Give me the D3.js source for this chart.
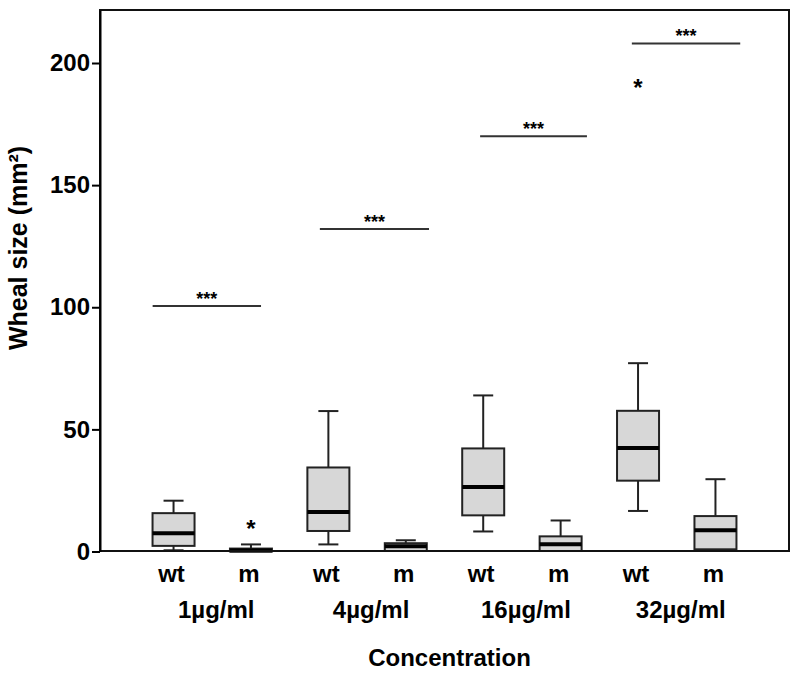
<!DOCTYPE html>
<html>
<head>
<meta charset="utf-8">
<script src="https://cdn.jsdelivr.net/npm/d3@7"></script>
<style>
    body { margin: 0; background: #fff; }
    text { font-family: "Liberation Sans", Arial, sans-serif; font-weight: bold; fill: #000; }
</style>
</head>
<body>
<div id="boxPlot"></div>
<script>
'use strict';

// groups along the x axis
const concentrations = ["1µg/ml", "4µg/ml", "16µg/ml", "32µg/ml"];
const strains = ["wt", "m"];

// box stats, one entry per box (wt, m, wt, m ...)
const whiskerLow  = [0.5, 0,   2.9, 0,   8.2, 0,    16.6, 0];
const q1          = [2.3, 0,   8.4, 0.2, 14.8, 0.2, 29.0, 0.9];
const median      = [7.5, 0.4, 16.2, 2.1, 26.4, 3.0, 42.4, 8.7];
const q3          = [15.7, 1.2, 34.4, 3.4, 42.2, 6.2, 57.6, 14.5];
const whiskerHigh = [20.8, 2.9, 57.5, 4.6, 63.9, 12.7, 77.1, 29.6];

// outliers: box index and value
const outlierBox = [1, 6];
const outlierValue = [11.6, 192.3];

// significance bars (x in box-index units)
const sigStart = [-0.27, 1.89, 3.96, 5.92];
const sigEnd = [1.13, 3.30, 5.34, 7.32];
const sigY = [100.5, 132, 170, 208];
const sigLabel = ["***", "***", "***", "***"];

const yTicks = [0, 50, 100, 150, 200];

let margin = { top: 10, right: 11, bottom: 127, left: 100 },
    width = 800 - margin.left - margin.right,
    height = 678 - margin.top - margin.bottom;

let x = d3.scaleLinear()
    .domain([-0.95, 7.95])
    .range([0, width]);

let y = d3.scaleLinear()
    .domain([0, 221.7])
    .range([height + 0.5, 0]);

let boxW = 42;

var svg = d3.select("#boxPlot").append("svg")
    .attr("width", width + margin.left + margin.right)
    .attr("height", height + margin.top + margin.bottom)
    .append("g")
    .attr("transform", "translate(" + margin.left + "," + margin.top + ")");

let boxes = median.map((m, i) => ({
    i: i,
    lo: whiskerLow[i], q1: q1[i], med: m, q3: q3[i], hi: whiskerHigh[i]
}));

// whiskers
let g = svg.selectAll(".box")
    .data(boxes)
    .enter().append("g")
    .attr("class", "box");

g.append("line")
    .attr("x1", d => x(d.i)).attr("x2", d => x(d.i))
    .attr("y1", d => y(d.hi)).attr("y2", d => y(d.lo))
    .attr("stroke", "#222").attr("stroke-width", 2);

g.append("line")
    .attr("x1", d => x(d.i) - 10).attr("x2", d => x(d.i) + 10)
    .attr("y1", d => y(d.hi)).attr("y2", d => y(d.hi))
    .attr("stroke", "#222").attr("stroke-width", 2);

g.filter(d => d.lo > 0).append("line")
    .attr("x1", d => x(d.i) - 10).attr("x2", d => x(d.i) + 10)
    .attr("y1", d => y(d.lo)).attr("y2", d => y(d.lo))
    .attr("stroke", "#222").attr("stroke-width", 2);

g.append("rect")
    .attr("x", d => x(d.i) - boxW / 2)
    .attr("width", boxW)
    .attr("y", d => y(d.q3))
    .attr("height", d => y(d.q1) - y(d.q3))
    .attr("fill", "#d7d7d7")
    .attr("stroke", "#222")
    .attr("stroke-width", 2);

g.append("line")
    .attr("x1", d => x(d.i) - boxW / 2).attr("x2", d => x(d.i) + boxW / 2)
    .attr("y1", d => y(d.med)).attr("y2", d => y(d.med))
    .attr("stroke", "#000").attr("stroke-width", 4);

// outliers (star centred on the value)
let starSize = 24;
svg.selectAll(".outlier")
    .data(outlierBox)
    .enter().append("text")
    .attr("class", "outlier")
    .attr("x", (d, i) => x(d))
    .attr("y", (d, i) => y(outlierValue[i]) + starSize * 0.58)
    .attr("text-anchor", "middle")
    .style("font-size", starSize + "px")
    .text("*");

// significance bars
svg.selectAll(".sig")
    .data(sigY)
    .enter().append("line")
    .attr("class", "sig")
    .attr("x1", (d, i) => x(sigStart[i]))
    .attr("x2", (d, i) => x(sigEnd[i]))
    .attr("y1", d => y(d)).attr("y2", d => y(d))
    .attr("stroke", "#333").attr("stroke-width", 2);

svg.selectAll(".sigText")
    .data(sigY)
    .enter().append("text")
    .attr("class", "sigText")
    .attr("x", (d, i) => x((sigStart[i] + sigEnd[i]) / 2))
    .attr("y", d => y(d) - 1)
    .attr("text-anchor", "middle")
    .style("font-size", "18px")
    .text((d, i) => sigLabel[i]);

// frame
svg.append("rect")
    .attr("x", 0).attr("y", 0)
    .attr("width", width).attr("height", height)
    .attr("fill", "none")
    .attr("stroke", "#111")
    .attr("stroke-width", 2);

// y axis
let yAxis = d3.axisLeft(y)
    .tickValues(yTicks)
    .tickSize(8)
    .tickSizeOuter(0)
    .tickPadding(2);

let ya = svg.append("g")
    .attr("class", "y axis")
    .call(yAxis);
ya.select(".domain").attr("stroke-width", 2);
ya.selectAll(".tick line").attr("stroke-width", 2);
ya.selectAll(".tick text")
    .style("font-size", "24px")
    .style("font-family", "Liberation Sans, Arial, sans-serif")
    .style("font-weight", "bold")
    .attr("fill", "#000");

// strain labels
svg.selectAll(".strain")
    .data(boxes)
    .enter().append("text")
    .attr("class", "strain")
    .attr("x", d => x(d.i) - 2)
    .attr("y", height + 31)
    .attr("text-anchor", "middle")
    .style("font-size", "24px")
    .text(d => strains[d.i % 2]);

// concentration labels
svg.selectAll(".conc")
    .data(concentrations)
    .enter().append("text")
    .attr("class", "conc")
    .attr("x", (d, i) => x(2 * i + 0.5) + 4)
    .attr("y", height + 67)
    .attr("text-anchor", "middle")
    .style("font-size", "24px")
    .text(d => d);

svg.append("text")
    .attr("x", width / 2 + 5)
    .attr("y", height + 115)
    .attr("text-anchor", "middle")
    .style("font-size", "24px")
    .text("Concentration");

svg.append("text")
    .attr("transform", "translate(" + (27 - margin.left) + "," + 238 + ") rotate(-90)")
    .attr("text-anchor", "middle")
    .style("font-size", "25px")
    .text("Wheal size (mm²)");
</script>
</body>
</html>
